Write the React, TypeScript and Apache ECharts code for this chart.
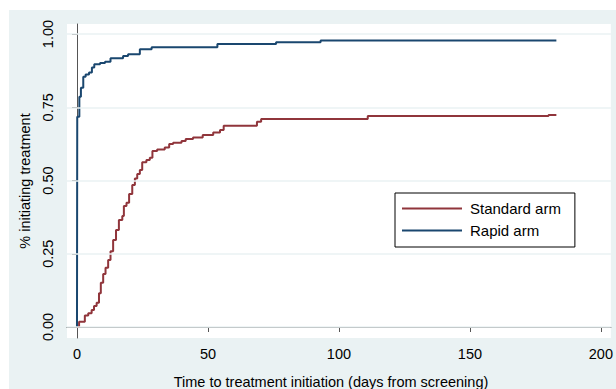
import { useEffect, useRef } from 'react';
import * as echarts from 'echarts';

const xTicks = [0, 50, 100, 150, 200];
const yTicks = [0, 0.25, 0.5, 0.75, 1];

const seriesNames = ['Standard arm', 'Rapid arm'];

const standardDays = [0, 0.8, 3.0, 4.3, 5.6, 6.5, 7.5, 8.4, 9.1, 10.0, 10.9, 11.9, 12.8, 13.8, 14.9, 16.0, 17.3, 17.9, 18.9, 19.9, 21.1, 22.1, 23.0, 24.0, 24.9, 26.5, 27.8, 28.8, 30.6, 33.5, 35.2, 36.7, 39.9, 41.5, 44.3, 48, 52, 54.6, 56, 68.7, 70.3, 111, 180, 183];
const standardValues = [0, 0.018, 0.039, 0.047, 0.058, 0.072, 0.083, 0.115, 0.151, 0.181, 0.202, 0.229, 0.259, 0.297, 0.331, 0.365, 0.379, 0.413, 0.424, 0.454, 0.485, 0.507, 0.522, 0.536, 0.562, 0.570, 0.578, 0.601, 0.606, 0.613, 0.625, 0.629, 0.635, 0.642, 0.647, 0.655, 0.664, 0.672, 0.687, 0.701, 0.710, 0.720, 0.724, 0.724];

const rapidDays = [0, 0.1, 0.9, 1.5, 2.4, 3.3, 4.6, 5.7, 6.6, 8.8, 10.7, 12.8, 17.6, 19.5, 24, 28.5, 53.6, 76, 93, 183];
const rapidValues = [0, 0.718, 0.786, 0.817, 0.854, 0.862, 0.869, 0.886, 0.897, 0.901, 0.905, 0.917, 0.925, 0.931, 0.948, 0.955, 0.966, 0.972, 0.978, 0.978];

const FONT = '"Liberation Sans", Arial, sans-serif';
const RED = '#90353B';
const BLUE = '#1A476F';
const BG = '#EAF2F3';

export default function App() {
  const ref = useRef<HTMLDivElement>(null);

  useEffect(() => {
    document.body.style.margin = '0';
    if (!ref.current) return;
    const chart = echarts.init(ref.current, undefined, { renderer: 'svg' });
    const pair = (d: number[], v: number[]) => d.map((x, i) => [x, v[i]]);
    chart.setOption({
      animation: false,
      backgroundColor: BG,
      textStyle: { fontFamily: FONT },
      grid: {
        left: 58,
        top: 14,
        right: 4,
        bottom: 51,
        show: true,
        backgroundColor: '#ffffff',
        borderWidth: 0,
      },
      xAxis: {
        type: 'value',
        min: -3.81,
        max: 203.8,
        axisLine: { show: true, lineStyle: { color: '#555555', width: 1 } },
        axisTick: { show: true, customValues: xTicks, length: 5, lineStyle: { color: '#555555' } },
        axisLabel: { customValues: xTicks, fontSize: 14.5, color: '#000', fontFamily: FONT, margin: 8 },
        splitLine: { show: false },
      },
      yAxis: {
        type: 'value',
        min: -0.0375,
        max: 1.0342,
        axisLine: { show: true, lineStyle: { color: '#555555', width: 1 } },
        axisTick: { show: true, customValues: yTicks, length: 5, lineStyle: { color: '#555555' } },
        axisLabel: {
          customValues: yTicks,
          rotate: 90,
          fontSize: 14.5,
          color: '#000',
          fontFamily: FONT,
          margin: 12,
          formatter: (v: number) => v.toFixed(2),
        },
        splitLine: { show: false },
      },
      legend: {
        data: seriesNames,
        orient: 'vertical',
        left: 386,
        top: 183,
        padding: [7, 14, 8, 7],
        itemGap: 5,
        itemWidth: 60,
        itemHeight: 2,
        icon: 'rect',
        backgroundColor: '#ffffff',
        borderColor: '#000000',
        borderWidth: 1,
        borderRadius: 0,
        textStyle: { fontSize: 15, color: '#000', fontFamily: FONT, lineHeight: 17, padding: [0, 0, 0, 3] },
      },
      graphic: [
        {
          type: 'text',
          x: 322,
          y: 372,
          style: {
            text: 'Time to treatment initiation (days from screening)',
            fontSize: 14.5,
            fontFamily: FONT,
            fill: '#000',
            textAlign: 'center',
            textVerticalAlign: 'middle',
          },
        },
        {
          type: 'text',
          x: 16,
          y: 171,
          rotation: Math.PI / 2,
          style: {
            text: '% initiating treatment',
            fontSize: 14.5,
            fontFamily: FONT,
            fill: '#000',
            textAlign: 'center',
            textVerticalAlign: 'middle',
          },
        },
      ],
      series: [
        {
          name: '',
          type: 'line',
          data: [],
          z: 1,
          silent: true,
          markLine: {
            silent: true,
            symbol: ['none', 'none'],
            label: { show: false },
            lineStyle: { color: BG, type: 'solid', width: 1.5 },
            data: yTicks.map((v) => ({ yAxis: v })),
          },
        },
        {
          name: seriesNames[0],
          type: 'line',
          step: 'end',
          showSymbol: false,
          z: 3,
          color: RED,
          lineStyle: { color: RED, width: 2 },
          data: pair(standardDays, standardValues),
        },
        {
          name: seriesNames[1],
          type: 'line',
          step: 'end',
          showSymbol: false,
          z: 3,
          color: BLUE,
          lineStyle: { color: BLUE, width: 2 },
          data: pair(rapidDays, rapidValues),
        },
      ],
    });
    return () => chart.dispose();
  }, []);

  return (
    <div
      ref={ref}
      style={{ width: 607, height: 379, marginLeft: 9, marginTop: 10 }}
    />
  );
}
